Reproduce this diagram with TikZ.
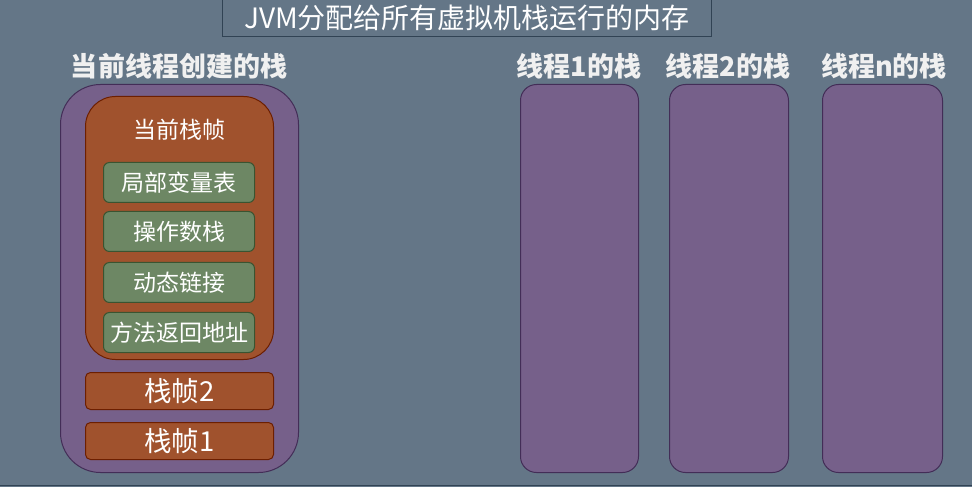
\documentclass[tikz,border=0pt]{standalone}
\usepackage{fontspec}
\setmainfont{Noto Sans CJK SC}
\newfontfamily\cjk{Noto Sans CJK SC}
\definecolor{bgc}{HTML}{647687}
\definecolor{bgs}{HTML}{314354}
\definecolor{pf}{HTML}{76608A}
\definecolor{ps}{HTML}{432D57}
\definecolor{of}{HTML}{A0522D}
\definecolor{os}{HTML}{6D1F00}
\definecolor{gf}{HTML}{6D8764}
\definecolor{gs}{HTML}{3A5431}
\definecolor{hd}{HTML}{F0F0F0}
\tikzset{
  box/.style={draw, line width=1bp, inner sep=0pt, anchor=north west},
  stackbox/.style={box, fill=pf, draw=ps},
  framebox/.style={box, fill=of, draw=os},
  greenbox/.style={box, fill=gf, draw=gs, rounded corners=6bp, text=white, font=\cjk\fontsize{23bp}{26bp}\selectfont},
  heading/.style={text=hd, font=\cjk\bfseries\fontsize{27bp}{30bp}\selectfont, inner sep=0pt},
  label/.style={text=white, inner sep=0pt},
}
\begin{document}
\begin{tikzpicture}[x=1bp,y=-1bp]
\useasboundingbox (0,0) rectangle (972,487);
\fill[bgc] (0,0) rectangle (972,487);
\draw[bgs, line width=1.5bp] (0,485.5) -- (972,485.5);
% title
\node[box, draw=bgs, minimum width=489bp, minimum height=38bp, text=white,
  font=\cjk\fontsize{28bp}{30bp}\selectfont] (title) at (222,-2) {JVM分配给所有虚拟机栈运行的内存};
% headings
\node[heading] (h0) at (179,66) {当前线程创建的栈};
\node[heading] (h1) at (579,66) {线程1的栈};
\node[heading] (h2) at (728,66) {线程2的栈};
\node[heading] (h3) at (884,66) {线程n的栈};
% main stack
\node[stackbox, rounded corners=40bp, minimum width=238bp, minimum height=388bp] (s0) at (60,84) {};
\node[framebox, rounded corners=30bp, minimum width=188bp, minimum height=263bp] (cur) at (85,96) {};
\node[label, font=\cjk\fontsize{23bp}{26bp}\selectfont] (curlbl) at (179,130) {当前栈帧};
\node[greenbox, minimum width=151bp, minimum height=40bp] (g1) at (103,162) {局部变量表};
\node[greenbox, minimum width=151bp, minimum height=40bp] (g2) at (103,211) {操作数栈};
\node[greenbox, minimum width=151bp, minimum height=40bp] (g3) at (103,262) {动态链接};
\node[greenbox, minimum width=151bp, minimum height=40bp] (g4) at (103,312) {方法返回地址};
\node[framebox, rounded corners=5bp, minimum width=188bp, minimum height=37bp, text=white,
  font=\cjk\fontsize{27.5bp}{30bp}\selectfont] (f2) at (85,372) {栈帧2};
\node[framebox, rounded corners=5bp, minimum width=188bp, minimum height=37bp, text=white,
  font=\cjk\fontsize{27.5bp}{30bp}\selectfont] (f1) at (85,422) {栈帧1};
% other stacks
\node[stackbox, rounded corners=16bp, minimum width=118bp, minimum height=388bp] (s1) at (520,84) {};
\node[stackbox, rounded corners=16bp, minimum width=119bp, minimum height=388bp] (s2) at (669,84) {};
\node[stackbox, rounded corners=16bp, minimum width=120bp, minimum height=388bp] (s3) at (822,84) {};
\end{tikzpicture}
\end{document}
